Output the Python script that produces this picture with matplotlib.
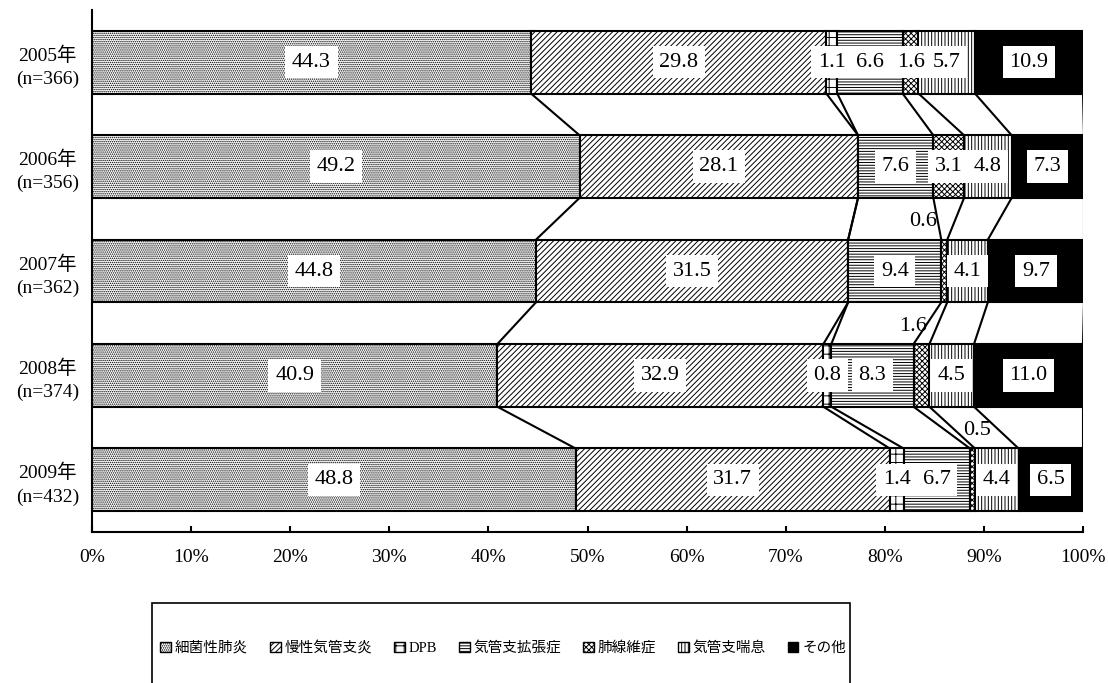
import numpy as np
import matplotlib
matplotlib.use("Agg")
import matplotlib.pyplot as plt
from matplotlib.patches import Patch, Rectangle

plt.rcParams["font.family"] = ["Liberation Serif", "Noto Sans CJK JP"]
plt.rcParams["hatch.linewidth"] = 0.7

# ── Data ────────────────────────────────────────────────────────────────
years = ["2005年\n(n=366)", "2006年\n(n=356)", "2007年\n(n=362)",
         "2008年\n(n=374)", "2009年\n(n=432)"]
series = ["細菌性肺炎", "慢性気管支炎", "DPB", "気管支拡張症",
          "肺線維症", "気管支喘息", "その他"]
bacterial = [44.3, 49.2, 44.8, 40.9, 48.8]
chronic_bronchitis = [29.8, 28.1, 31.5, 32.9, 31.7]
dpb = [1.1, 0.0, 0.0, 0.8, 1.4]
bronchiectasis = [6.6, 7.6, 9.4, 8.3, 6.7]
fibrosis = [1.6, 3.1, 0.6, 1.6, 0.5]
asthma = [5.7, 4.8, 4.1, 4.5, 4.4]
other = [10.9, 7.3, 9.7, 11.0, 6.5]

values = np.array([bacterial, chronic_bronchitis, dpb, bronchiectasis,
                   fibrosis, asthma, other])

# styles
hatches = ["........", "//////", "++", "------", "xxxxxx", "|||||", ""]
faces = ["white"] * 6 + ["black"]
# labels drawn above the bar instead of inside: (series idx, year idx) -> x shift (%)
outside = {(4, 2): -2.1, (4, 3): -0.8, (4, 4): 0.45}

fig = plt.figure(figsize=(11.08, 6.83), dpi=100)
ax = fig.add_axes([92 / 1108, 1 - 532 / 683, (1083 - 92) / 1108, 522 / 683])

ypos = np.arange(len(years))
bar_h = 0.6
left = np.zeros(len(years))
for i, name in enumerate(series):
    ax.barh(ypos, values[i], left=left, height=bar_h, color=faces[i],
            edgecolor="black", hatch=hatches[i], linewidth=1.5, zorder=2)
    for j, v in enumerate(values[i]):
        if v <= 0:
            continue
        cx = left[j] + v / 2
        if (i, j) in outside:
            ax.text(cx + outside[(i, j)], ypos[j] - 0.47, f"{v:.1f}",
                    ha="center", va="center", fontsize=16, zorder=4)
        else:
            ax.text(cx, ypos[j], f"{v:.1f}", ha="center", va="center",
                    fontsize=16, zorder=4,
                    bbox=dict(boxstyle="square,pad=0.3", fc="white", ec="none"))
    left = left + values[i]

# series lines between bars
cum = np.cumsum(values, axis=0)
for k in range(cum.shape[0]):
    for j in range(len(years) - 1):
        ax.plot([cum[k, j], cum[k, j + 1]],
                [ypos[j] + bar_h / 2, ypos[j + 1] - bar_h / 2],
                color="black", lw=1.5, zorder=1)

ax.set_xlim(0, 100)
ax.set_ylim(len(years) - 0.5, -0.5)
ax.set_xticks(np.arange(0, 101, 10))
ax.set_xticklabels([f"{t}%" for t in range(0, 101, 10)], fontsize=14)
ax.set_yticks(ypos)
ax.set_yticklabels(years, fontsize=14, linespacing=1.45)
for lbl in ax.get_yticklabels():
    lbl.set_ha("center")
    lbl.set_multialignment("center")
ax.tick_params(axis="y", length=0, pad=32)
ax.tick_params(axis="x", direction="in", length=4, width=1.5, pad=12)
for s in ["top", "right"]:
    ax.spines[s].set_visible(False)
for s in ["left", "bottom"]:
    ax.spines[s].set_linewidth(1.5)

# legend, frame clipped by the figure bottom
fig.add_artist(Rectangle((152 / 1108, -0.2), (850 - 152) / 1108,
                         (683 - 603) / 683 + 0.2, transform=fig.transFigure,
                         fill=False, ec="black", lw=1.2))
handles = [Patch(facecolor=faces[i], edgecolor="black", hatch=hatches[i],
                 label=series[i]) for i in range(len(series))]
fig.legend(handles=handles, loc="center", bbox_to_anchor=(503 / 1108, 1 - 648 / 683),
           ncol=7, frameon=False, fontsize=10.5, handlelength=0.75,
           handleheight=0.75, handletextpad=0.25, columnspacing=1.5)

fig.savefig("out.png", dpi=100)
